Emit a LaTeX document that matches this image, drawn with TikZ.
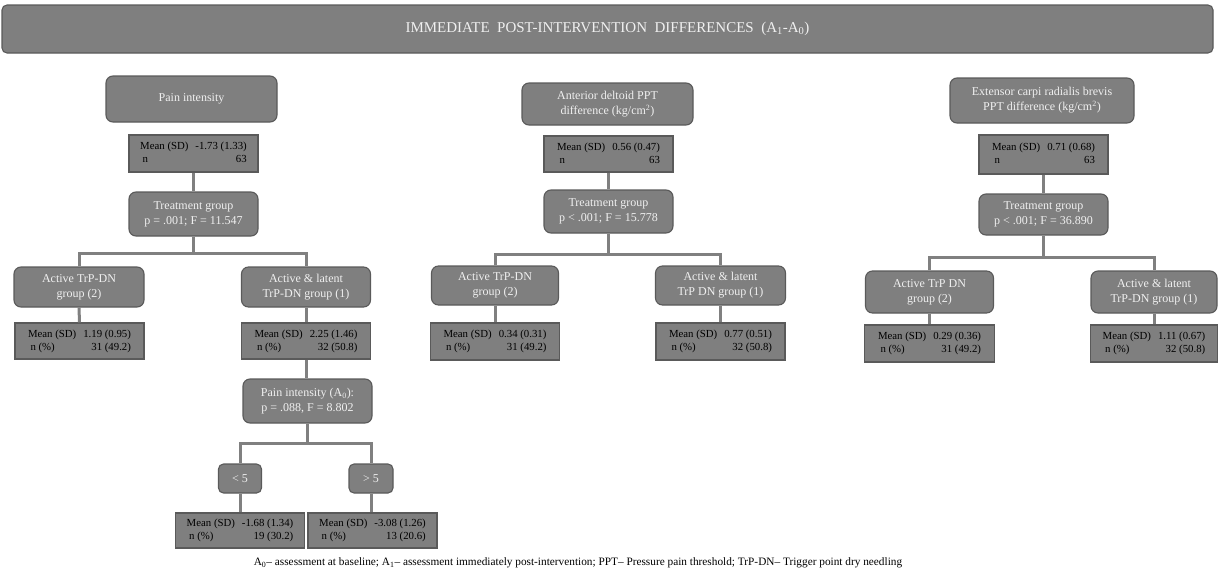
\documentclass[tikz,border=0pt]{standalone}
\usepackage{fontspec}
\setmainfont{Liberation Serif}

\definecolor{boxfill}{HTML}{7F7F7F}
\definecolor{boxedge}{HTML}{5A5A5A}
\definecolor{linkgray}{HTML}{808080}

\newcommand{\statlines}[4]{%
	\begin{tabular}{@{}l@{\hspace{7pt}}r@{}}#1 & #2\\ \hspace{2.5pt}#3 & #4\end{tabular}}

\tikzset{
	every box/.style={draw=boxedge, fill=boxfill, line width=1.1pt, inner sep=0pt, align=center},
	head box/.style={every box, rounded corners=7pt, text=white!94!black, font=\fontsize{12}{15}\selectfont},
	stat box/.style={every box, font=\fontsize{10.8}{13}\selectfont},
	link/.style={draw=linkgray, line width=3pt},
}

\begin{document}
\begin{tikzpicture}[x=1pt, y=-1pt]
	\useasboundingbox (0,0) rectangle (1218,573);
	
	\node [head box, rounded corners=5pt, minimum width=1211pt, minimum height=48pt, font=\fontsize{15}{17}\selectfont] (title) at (607.5,29) {IMMEDIATE\ \ POST-INTERVENTION\ \ DIFFERENCES\ \ (A\textsubscript{1}-A\textsubscript{0})};
	
	% pain intensity
	\node [head box, minimum width=171pt, minimum height=46pt] (painH) at (191.5,99) {Pain intensity};
	\node [stat box, minimum width=129pt, minimum height=37pt] (meanP) at (193.5,153.5) {\statlines{Mean (SD)}{-1.73 (1.33)}{n}{63}};
	\node [head box, minimum width=129pt, minimum height=44pt] (treatP) at (193.5,214) {Treatment group\\p = .001; F = 11.547};
	\node [head box, minimum width=130pt, minimum height=40pt] (grp2P) at (79,287) {Active TrP-DN\\group (2)};
	\node [head box, minimum width=129pt, minimum height=40pt] (grp1P) at (306,287) {Active \& latent\\TrP-DN group (1)};
	\node [stat box, minimum width=129pt, minimum height=36pt] (mean2P) at (79.5,341) {\statlines{Mean (SD)}{1.19 (0.95)}{n (\%)}{31 (49.2)}};
	\node [stat box, minimum width=129pt, minimum height=36pt] (mean1P) at (306,341) {\statlines{Mean (SD)}{2.25 (1.46)}{n (\%)}{32 (50.8)}};
	\node [head box, minimum width=129pt, minimum height=44pt] (baseP) at (307.5,401) {Pain intensity (A\textsubscript{0}):\\p = .088, F = 8.802};
	\node [head box, rounded corners=5pt, minimum width=43pt, minimum height=29pt] (lowP) at (240,478.5) {< 5};
	\node [head box, rounded corners=5pt, minimum width=44pt, minimum height=29pt] (highP) at (371,478.5) {> 5};
	\node [stat box, minimum width=129pt, minimum height=35pt] (meanLowP) at (240,530.5) {\statlines{Mean (SD)}{-1.68 (1.34)}{n (\%)}{19 (30.2)}};
	\node [stat box, minimum width=129pt, minimum height=35pt] (meanHighP) at (372.5,530.5) {\statlines{Mean (SD)}{-3.08 (1.26)}{n (\%)}{13 (20.6)}};
	
	% anterior deltoid
	\node [head box, minimum width=171pt, minimum height=42pt] (deltH) at (607.5,104) {Anterior deltoid PPT\\difference (kg/cm\textsuperscript{2})};
	\node [stat box, minimum width=129pt, minimum height=36pt] (meanD) at (608.5,154) {\statlines{Mean (SD)}{0.56 (0.47)}{n}{63}};
	\node [head box, minimum width=129pt, minimum height=43pt] (treatD) at (608.5,211.5) {Treatment group\\p < .001; F = 15.778};
	\node [head box, minimum width=127pt, minimum height=39pt] (grp2D) at (495,285.5) {Active TrP-DN\\group (2)};
	\node [head box, minimum width=130pt, minimum height=39pt] (grp1D) at (720.5,285.5) {Active \& latent\\TrP DN group (1)};
	\node [stat box, minimum width=129pt, minimum height=37pt] (mean2D) at (495,341.5) {\statlines{Mean (SD)}{0.34 (0.31)}{n (\%)}{31 (49.2)}};
	\node [stat box, minimum width=129pt, minimum height=37pt] (mean1D) at (720.5,341.5) {\statlines{Mean (SD)}{0.77 (0.51)}{n (\%)}{32 (50.8)}};
	
	% extensor carpi radialis brevis
	\node [head box, minimum width=184pt, minimum height=45pt] (extH) at (1042,100.5) {Extensor carpi radialis brevis\\PPT difference (kg/cm\textsuperscript{2})};
	\node [stat box, minimum width=129pt, minimum height=39pt] (meanE) at (1043.5,154.5) {\statlines{Mean (SD)}{0.71 (0.68)}{n}{63}};
	\node [head box, minimum width=129pt, minimum height=41pt] (treatE) at (1043.5,214.5) {Treatment group\\p < .001; F = 36.890};
	\node [head box, minimum width=128pt, minimum height=42pt] (grp2E) at (929.5,292) {Active TrP DN\\group (2)};
	\node [head box, minimum width=126pt, minimum height=42pt] (grp1E) at (1154,292) {Active \& latent\\TrP-DN group (1)};
	\node [stat box, minimum width=130pt, minimum height=37pt] (mean2E) at (929.5,343.5) {\statlines{Mean (SD)}{0.29 (0.36)}{n (\%)}{31 (49.2)}};
	\node [stat box, minimum width=127pt, minimum height=37pt] (mean1E) at (1154,343.5) {\statlines{Mean (SD)}{1.11 (0.67)}{n (\%)}{32 (50.8)}};
	
	\coordinate (brP) at (193.5,253);
	\coordinate (brA) at (307.5,443);
	\coordinate (brD) at (608.5,254);
	\coordinate (brE) at (1043.5,257);
	
	\draw [link] (meanP.south) -- (treatP.north);
	\draw [link] (treatP.south) -- (brP);
	\draw [link] (grp2P.north) |- (brP) -| (grp1P.north);
	\draw [link] (grp2P.south) -- (mean2P.north);
	\draw [link] (grp1P.south) -- (mean1P.north);
	\draw [link] (mean1P.south) -- (mean1P.south |- baseP.north);
	\draw [link] (baseP.south) -- (brA);
	\draw [link] (lowP.north) |- (brA) -| (highP.north);
	\draw [link] (lowP.south) -- (meanLowP.north);
	\draw [link] (highP.south) -- (highP.south |- meanHighP.north);
	
	\draw [link] (meanD.south) -- (treatD.north);
	\draw [link] (treatD.south) -- (brD);
	\draw [link] (grp2D.north) |- (brD) -| (grp1D.north);
	\draw [link] (grp2D.south) -- (mean2D.north);
	\draw [link] (grp1D.south) -- (mean1D.north);
	
	\draw [link] (meanE.south) -- (treatE.north);
	\draw [link] (treatE.south) -- (brE);
	\draw [link] (grp2E.north) |- (brE) -| (grp1E.north);
	\draw [link] (grp2E.south) -- (mean2E.north);
	\draw [link] (grp1E.south) -- (mean1E.north);
	
	\node [font=\fontsize{11.3}{13}\selectfont] (note) at (578,563) {A\textsubscript{0}-- assessment at baseline; A\textsubscript{1}-- assessment immediately post-intervention; PPT-- Pressure pain threshold; TrP-DN-- Trigger point dry needling};
\end{tikzpicture}
\end{document}
